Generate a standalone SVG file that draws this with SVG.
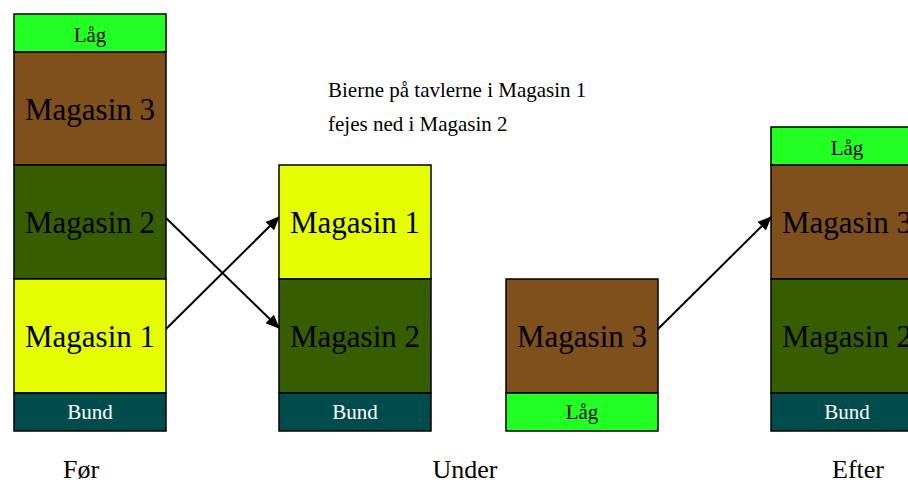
<svg xmlns="http://www.w3.org/2000/svg" width="908" height="483" viewBox="0 0 908 483">
<defs>
<marker id="arr" markerWidth="14" markerHeight="12" refX="13" refY="6" orient="auto" markerUnits="userSpaceOnUse">
<path d="M0,0 L14,6 L0,12 Z" fill="#000"/>
</marker>
<style>
rect{stroke:#000;stroke-width:1.5}
.lag{fill:#22FF22}
.m3{fill:#7F4F1C}
.m2{fill:#365E00}
.m1{fill:#E6FF00}
.bund{fill:#004C4C}
text{font-family:"Liberation Serif","Times New Roman",serif;text-anchor:middle;fill:#000}
.big{font-size:31px}
.small{font-size:21px}
.w{fill:#fff}
.cap{font-size:26px}
.note{font-size:21px;text-anchor:start}
.conn line{stroke:#000;stroke-width:2;marker-end:url(#arr)}
</style>
</defs>
<rect x="0" y="0" width="908" height="483" fill="#fff" style="stroke:none"/>

<g id="foer">
<g id="foer-laag"><rect class="lag" x="14" y="14" width="152" height="38"/><text class="small" x="90" y="41.5">Låg</text></g>
<g id="foer-m3"><rect class="m3" x="14" y="52" width="152" height="113"/><text class="big" x="90" y="120">Magasin 3</text></g>
<g id="foer-m2"><rect class="m2" x="14" y="165" width="152" height="114"/><text class="big" x="90" y="233">Magasin 2</text></g>
<g id="foer-m1"><rect class="m1" x="14" y="279" width="152" height="114"/><text class="big" x="90" y="347">Magasin 1</text></g>
<g id="foer-bund"><rect class="bund" x="14" y="393" width="152" height="38"/><text class="small w" x="90" y="418.5">Bund</text></g>
</g>

<g id="under1">
<g id="under1-m1"><rect class="m1" x="279" y="165" width="152" height="114"/><text class="big" x="355" y="233">Magasin 1</text></g>
<g id="under1-m2"><rect class="m2" x="279" y="279" width="152" height="114"/><text class="big" x="355" y="347">Magasin 2</text></g>
<g id="under1-bund"><rect class="bund" x="279" y="393" width="152" height="38"/><text class="small w" x="355" y="418.5">Bund</text></g>
</g>

<g id="under2">
<g id="under2-m3"><rect class="m3" x="506" y="279" width="152" height="114"/><text class="big" x="582" y="347">Magasin 3</text></g>
<g id="under2-laag"><rect class="lag" x="506" y="393" width="152" height="38"/><text class="small" x="582" y="419">Låg</text></g>
</g>

<g id="efter">
<g id="efter-laag"><rect class="lag" x="771" y="127" width="152" height="38"/><text class="small" x="847" y="154.5">Låg</text></g>
<g id="efter-m3"><rect class="m3" x="771" y="165" width="152" height="114"/><text class="big" x="847" y="233">Magasin 3</text></g>
<g id="efter-m2"><rect class="m2" x="771" y="279" width="152" height="114"/><text class="big" x="847" y="347">Magasin 2</text></g>
<g id="efter-bund"><rect class="bund" x="771" y="393" width="152" height="38"/><text class="small w" x="847" y="418.5">Bund</text></g>
</g>

<g id="connectors" class="conn">
<line x1="166" y1="218" x2="279" y2="328"/>
<line x1="166" y1="329" x2="279" y2="217"/>
<line x1="658" y1="329" x2="771" y2="217"/>
</g>

<g id="labels">
<text class="note" x="328" y="97">Bierne på tavlerne i Magasin 1</text>
<text class="note" x="328" y="131">fejes ned i Magasin 2</text>
<text class="cap" x="81" y="478">Før</text>
<text class="cap" x="465" y="478">Under</text>
<text class="cap" x="858" y="478">Efter</text>
</g>
</svg>
